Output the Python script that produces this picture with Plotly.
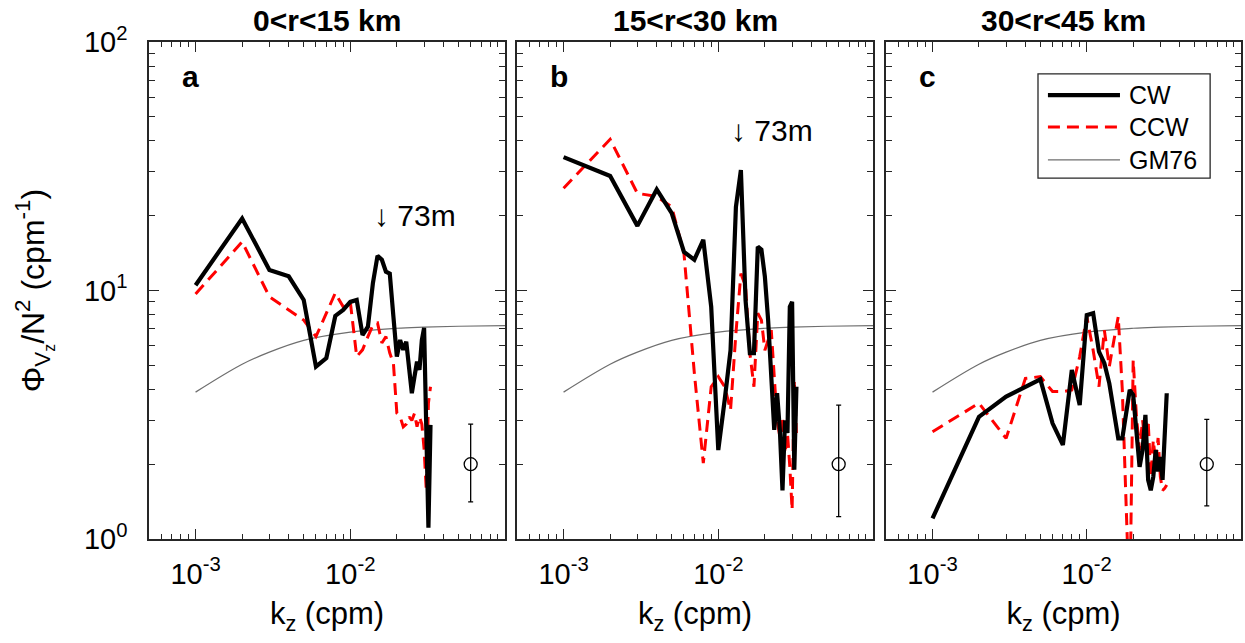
import math
import plotly.graph_objects as go

# ---------------- data ----------------
K = [0.001, 0.002, 0.003, 0.004, 0.005, 0.006, 0.007, 0.008, 0.009, 0.010,
     0.011, 0.012, 0.013, 0.014, 0.015, 0.016, 0.017, 0.018, 0.019, 0.020,
     0.021, 0.022, 0.023, 0.024, 0.025, 0.026, 0.027, 0.028, 0.029, 0.030,
     0.031, 0.032, 0.033]

A_CW = [10.5, 19.5, 12.1, 11.4, 9.16, 4.94, 5.35, 7.9, 8.35, 9.0,
        9.16, 6.62, 7.15, 10.7, 13.8, 13.3, 11.9, 11.7, 7.85, 5.42,
        6.32, 5.77, 6.22, 4.94, 3.86, 4.5, 5.17, 4.79, 6.31, 7.07,
        3.1, 1.11, 2.88]
A_CCW = [9.68, 15.7, 9.44, 8.35, 7.6, 6.52, 8.1, 9.77, 8.6, 9.0,
         5.42, 5.77, 6.52, 7.26, 7.4, 6.15, 6.52, 5.6, 5.1, 3.21,
         3.1, 2.83, 2.9, 3.1, 3.0, 3.2, 2.83, 3.1, 2.9, 2.3,
         1.57, 3.52, 4.1]

B_CW = [34.4, 28.9, 18.2, 25.5, 20.5, 14.3, 13.3, 16.0, 8.6, 2.28,
        3.63, 5.75, 21.7, 30.5, 9.16, 5.59, 5.59, 15.0, 14.6, 11.4,
        7.6, 4.36, 2.75, 3.86, 2.75, 1.57, 3.0, 2.67, 8.6, 9.0,
        1.9, 4.1]
B_CCW = [25.8, 40.6, 24.6, 23.9, 21.7, 14.1, 4.66, 2.02, 4.1, 4.5,
         4.1, 3.3, 6.73, 11.7, 10.4, 5.59, 4.1, 8.1, 7.6, 5.75,
         6.31, 6.93, 4.5, 3.01, 2.58, 3.1, 2.21, 2.67, 1.95, 1.31,
         4.36, 2.67]

C_CW = [1.21, 3.1, 3.74, 4.1, 4.39, 2.92, 2.39, 4.79, 3.46, 7.96,
        8.1, 5.67, 5.1, 4.23, 3.2, 2.54, 2.54, 3.2, 3.98, 3.8,
        2.75, 1.95, 2.28, 3.16, 1.73, 1.57, 1.78, 2.28, 1.87, 2.14,
        1.73, 2.75, 3.86]
C_CCW = [2.7, 3.52, 2.54, 4.43, 4.5, 3.92, 3.92, 3.98, 5.42, 7.85,
         5.75, 4.1, 6.93, 4.94, 6.31, 7.85, 3.98, 1.35, 0.5, 5.25,
         3.1, 2.28, 3.01, 2.35, 3.0, 1.78, 2.5, 2.02, 2.55, 1.78,
         1.57, 1.6, 1.65]

GM_K = [0.001, 0.002, 0.003, 0.005, 0.01, 0.02, 0.03, 0.05, 0.1]
GM_V = [3.9, 5.05, 5.65, 6.3, 6.8, 7.05, 7.12, 7.18, 7.22]

ERR_K = [0.06, 0.06, 0.06]
ERR_MID = [2.0, 2.0, 2.0]
ERR_HI = [2.9, 3.46, 3.03]
ERR_LO = [1.41, 1.23, 1.36]

PANEL_TITLES = ["0<r<15 km", "15<r<30 km", "30<r<45 km"]
PANEL_LETTERS = ["a", "b", "c"]
LEGEND_LABELS = ["CW", "CCW", "GM76"]
PEAK_LABEL = "\u2193 73m"
PEAK_POS = [(0.0138, 20.0), (0.0118, 44.0)]   # (k, value) of the "73m" labels in panels a, b

X_TICKS = [1e-3, 1e-2]
X_TICKTEXT = ["10<sup>-3</sup>", "10<sup>-2</sup>"]
X_MINOR = [5e-4, 6e-4, 7e-4, 8e-4, 9e-4, 2e-3, 3e-3, 4e-3, 5e-3, 6e-3, 7e-3, 8e-3, 9e-3,
           2e-2, 3e-2, 4e-2, 5e-2, 6e-2, 7e-2, 8e-2, 9e-2]
Y_TICKS = [1, 10, 100]
Y_TICKTEXT = ["10<sup>0</sup>", "10<sup>1</sup>", "10<sup>2</sup>"]
Y_MINOR = [2, 3, 4, 5, 6, 7, 8, 9, 20, 30, 40, 50, 60, 70, 80, 90]

CW_SERIES = [A_CW, B_CW, C_CW]
CCW_SERIES = [A_CCW, B_CCW, C_CCW]

# ---------------- styling ----------------
FONT = "Liberation Sans, Arial, Helvetica, sans-serif"
AXC = "#262626"
CW_STYLE = dict(color="black", width=4.2)
CCW_STYLE = dict(color="#ff0000", width=3, dash="12px,7px")
GM_STYLE = dict(color="#6e6e6e", width=1.2)

domains = [(0.0, 0.326), (0.337, 0.663), (0.675, 1.0)]

fig = go.Figure()

for i in range(3):
    xa = "x" if i == 0 else f"x{i+1}"
    ya = "y" if i == 0 else f"y{i+1}"
    fig.add_trace(go.Scatter(x=GM_K, y=GM_V, mode="lines", line=dict(shape="spline", **GM_STYLE),
                             xaxis=xa, yaxis=ya, showlegend=False, name=LEGEND_LABELS[2]))
    n_ccw = len(CCW_SERIES[i])
    fig.add_trace(go.Scatter(x=K[:n_ccw], y=CCW_SERIES[i], mode="lines", line=CCW_STYLE,
                             xaxis=xa, yaxis=ya, showlegend=False, name=LEGEND_LABELS[1]))
    n_cw = len(CW_SERIES[i])
    fig.add_trace(go.Scatter(x=K[:n_cw], y=CW_SERIES[i], mode="lines", line=CW_STYLE,
                             xaxis=xa, yaxis=ya, showlegend=False, name=LEGEND_LABELS[0]))
    fig.add_trace(go.Scatter(
        x=[ERR_K[i]], y=[ERR_MID[i]], mode="markers",
        marker=dict(symbol="circle-open", size=13, color="black", line=dict(width=1.3)),
        error_y=dict(type="data", symmetric=False,
                     array=[ERR_HI[i] - ERR_MID[i]], arrayminus=[ERR_MID[i] - ERR_LO[i]],
                     color="black", thickness=1.3, width=2.5),
        xaxis=xa, yaxis=ya, showlegend=False))

axis_common = dict(type="log", showline=True, linecolor=AXC, linewidth=1.5, mirror="allticks",
                   ticks="inside", ticklen=10, tickwidth=1.2, tickcolor=AXC,
                   showgrid=False, zeroline=False, automargin=False,
                   tickfont=dict(family=FONT, size=29, color="black"))

layout = dict(
    width=1245, height=643,
    margin=dict(l=149, r=4, t=42, b=104),
    plot_bgcolor="white", paper_bgcolor="white",
    font=dict(family=FONT, color="black"),
    showlegend=False,
)

for i in range(3):
    xk = "xaxis" if i == 0 else f"xaxis{i+1}"
    yk = "yaxis" if i == 0 else f"yaxis{i+1}"
    xa = "x" if i == 0 else f"x{i+1}"
    ya = "y" if i == 0 else f"y{i+1}"
    layout[xk] = dict(axis_common, domain=list(domains[i]), anchor=ya,
                      range=[-3.30103, -1.0], tickmode="array", tickvals=X_TICKS,
                      ticktext=X_TICKTEXT, ticklabelstandoff=8,
                      minor=dict(tickmode="array", tickvals=X_MINOR, ticks="inside",
                                 ticklen=5, tickwidth=1.2, tickcolor=AXC, showgrid=False),
                      title=dict(text="k<sub>z</sub> (cpm)", font=dict(family=FONT, size=31),
                                 standoff=14))
    layout[yk] = dict(axis_common, domain=[0, 1], anchor=xa, range=[0, 2],
                      tickmode="array", tickvals=Y_TICKS, ticktext=Y_TICKTEXT,
                      showticklabels=(i == 0), ticklabelstandoff=14,
                      minor=dict(tickmode="array", tickvals=Y_MINOR, ticks="inside",
                                 ticklen=6, tickwidth=1.2, tickcolor=AXC, showgrid=False))

layout["yaxis"]["title"] = dict(
    text="\u03a6<sub>V<sub>z</sub></sub>/N<sup>2</sup> (cpm<sup>-1</sup>)",
    font=dict(family=FONT, size=32), standoff=30)

fig.update_layout(**layout)

annotations = []
shapes = []
for i in range(3):
    xa = "x" if i == 0 else f"x{i+1}"
    ya = "y" if i == 0 else f"y{i+1}"
    annotations.append(dict(text=f"<b>{PANEL_TITLES[i]}</b>", xref=f"{xa} domain", yref=f"{ya} domain",
                            x=0.5, y=1.0, xanchor="center", yanchor="bottom", showarrow=False,
                            font=dict(family=FONT, size=30, color="black"), yshift=3))
    annotations.append(dict(text=f"<b>{PANEL_LETTERS[i]}</b>", xref=f"{xa} domain", yref=f"{ya} domain",
                            x=0.088, y=0.93, xanchor="left", yanchor="middle", showarrow=False,
                            font=dict(family=FONT, size=30, color="black")))

for i, (kx, vy) in enumerate(PEAK_POS):
    xa = "x" if i == 0 else f"x{i+1}"
    ya = "y" if i == 0 else f"y{i+1}"
    annotations.append(dict(text=PEAK_LABEL, xref=xa, yref=ya, x=math.log10(kx), y=math.log10(vy),
                            xanchor="left", yanchor="middle", showarrow=False,
                            font=dict(family=FONT, size=30, color="black")))

# legend box (panel c)
lx0, lx1, ly0, ly1 = 0.428, 0.913, 0.726, 0.936
shapes.append(dict(type="rect", xref="x3 domain", yref="y3 domain", x0=lx0, x1=lx1, y0=ly0, y1=ly1,
                   line=dict(color=AXC, width=1.3), fillcolor="white", layer="above"))
leg_styles = [CW_STYLE, CCW_STYLE, GM_STYLE]
leg_y = [0.893, 0.829, 0.763]
for j in range(3):
    shapes.append(dict(type="line", xref="x3 domain", yref="y3 domain", x0=0.456, x1=0.659,
                       y0=leg_y[j], y1=leg_y[j], line=leg_styles[j], layer="above"))
    annotations.append(dict(text=LEGEND_LABELS[j], xref="x3 domain", yref="y3 domain",
                            x=0.68, y=leg_y[j], xanchor="left", yanchor="middle", showarrow=False,
                            font=dict(family=FONT, size=25, color="black")))

fig.update_layout(annotations=annotations, shapes=shapes)
fig.write_html("out.html", config={"displayModeBar": False},
               post_script="document.body.style.margin='0';document.body.style.overflow='hidden';")
